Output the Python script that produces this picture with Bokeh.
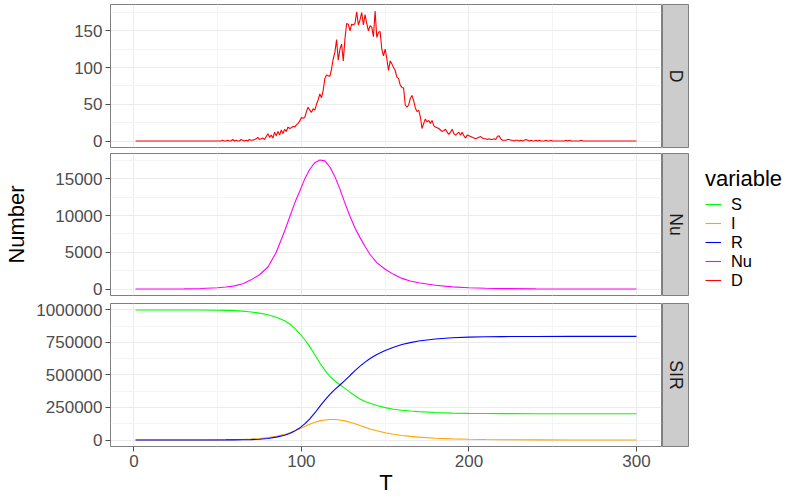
import math
from bokeh.plotting import figure
from bokeh.layouts import row, column
from bokeh.models import (Range1d, FixedTicker, BasicTickFormatter, Legend,
                          LegendItem, LinearAxis, Grid)
from bokeh.core.properties import value
from bokeh.embed import file_html
from bokeh.resources import INLINE

FONT = "Liberation Sans"

# ---------------- data ----------------
variables = ["S", "I", "R", "Nu", "D"]
colors = ["#00FF00", "#FFA500", "#0000FF", "#FF00FF", "#FF0000"]
panel_names = ["D", "Nu", "SIR"]

T_daily = list(range(1, 301))
D = ([0] * 50
     + [0, 0, 1, 0, 0, 1, 0, 0, 2, 0]
     + [1, 0, 0, 2, 1, 0, 1, 0, 2, 1]
     + [1, 2, 3, 5, 2, 3, 4, 2, 6, 10]
     + [5, 8, 4, 12, 7, 13, 8, 15, 10, 16]
     + [13, 19, 17, 18, 20, 19, 22, 24, 27, 32]
     + [31, 32, 40, 46, 42, 39, 44, 42, 50, 56]
     + [64, 59, 69, 85, 90, 89, 88, 98, 112, 121]
     + [138, 110, 125, 132, 109, 139, 160, 159, 150, 159]
     + [158, 160, 176, 158, 165, 175, 158, 172, 160, 150]
     + [157, 155, 142, 177, 141, 148, 149, 125, 116, 125]
     + [112, 96, 109, 105, 100, 96, 87, 85, 76, 73]
     + [72, 49, 46, 49, 58, 62, 55, 45, 40, 42]
     + [33, 17, 24, 30, 26, 28, 24, 28, 21, 19]
     + [18, 17, 15, 13, 14, 16, 12, 9, 12, 16]
     + [10, 8, 10, 12, 8, 12, 7, 4, 8, 7]
     + [6, 5, 4, 3, 4, 5, 6, 4, 3, 3]
     + [2, 3, 2, 2, 3, 2, 6, 7, 3, 1]
     + [1, 1, 2, 2, 1, 1, 0, 1, 1, 0]
     + [1, 0, 1, 2, 1, 0, 1, 0, 0, 1]
     + [0, 1, 0, 0, 0, 1, 0, 0, 1, 0]
     + [0, 0, 0, 0, 0, 0, 0, 1, 0, 1]
     + [0, 0, 0, 0, 0, 0, 1, 0, 0, 0]
     + [0] * 30)

T_smooth = [1, 10, 20, 30, 40, 50, 55, 60, 65, 70,
            75, 80, 85, 90, 93, 96, 99, 102, 105, 108,
            111, 114, 117, 120, 123, 126, 129, 132, 135, 138,
            141, 145, 150, 155, 160, 165, 170, 180, 190, 200,
            210, 220, 240, 260, 280, 300]

Nu = [1, 4, 10, 25, 65, 170, 270, 430, 720, 1250,
      1950, 3000, 5000, 7900, 9800, 11700, 13300, 15000, 16300, 17200,
      17570, 17450, 16600, 15300, 13600, 11700, 9900, 8300, 7000, 5800,
      4700, 3600, 2700, 2000, 1450, 1100, 850, 520, 300, 170,
      100, 60, 22, 8, 3, 1]

S = [999990, 999970, 999900, 999780, 999500, 998500, 997300, 995000, 991000, 985000,
     976000, 964000, 944000, 917000, 892000, 859000, 819000, 771000, 718000, 656000,
     592000, 537000, 490000, 454000, 425000, 397000, 368000, 340000, 316000, 297000,
     282000, 265000, 249000, 237000, 229000, 222500, 218000, 211000, 207000, 205000,
     203800, 203000, 202300, 202000, 201900, 201800]

I = [10, 25, 70, 180, 450, 1100, 1700, 2700, 4300, 7000,
     11500, 19000, 29000, 43000, 55000, 70000, 87000, 104000, 121000, 136000,
     147000, 154000, 158000, 158000, 154000, 147000, 137000, 125000, 112000, 98000,
     85000, 71000, 56000, 44000, 35000, 28000, 22000, 14000, 9000, 5500,
     3400, 2100, 750, 270, 100, 35]

R = [0, 2, 10, 40, 120, 350, 600, 1000, 1800, 3200,
     6000, 11000, 22000, 36000, 50000, 70000, 93000, 124000, 162000, 208000,
     259000, 307000, 351000, 389000, 423000, 458000, 496000, 533000, 568000, 599000,
     627000, 657000, 689000, 714000, 734000, 749000, 761000, 777000, 786000, 791000,
     794000, 795500, 796500, 797000, 797200, 797300]

x_ticks = [0, 100, 200, 300]
x_minor = [50, 150, 250]
y_ticks = {"D": [0, 50, 100, 150],
           "Nu": [0, 5000, 10000, 15000],
           "SIR": [0, 250000, 500000, 750000, 1000000]}
y_minor = {"D": [25, 75, 125, 175],
           "Nu": [2500, 7500, 12500, 17500],
           "SIR": [125000, 375000, 625000, 875000]}

series = {"S": (T_smooth, S), "I": (T_smooth, I), "R": (T_smooth, R),
          "Nu": (T_smooth, Nu), "D": (T_daily, D)}
panel_vars = {"D": ["D"], "Nu": ["Nu"], "SIR": ["S", "I", "R"]}
color_of = dict(zip(variables, colors))

# ---------------- layout sizes ----------------
LEFT = 110
PANEL_W = 662
STRIP_W = 27
LEG_W = 111
heights = {"D": 152, "Nu": 147, "SIR": 200}
tops = {"D": 4, "Nu": 1, "SIR": 4}
bottoms = {"D": 5, "Nu": 4, "SIR": 53}
TICK_FS = "17px"

TICK_COLOR = "#4D4D4D"
GRID_MAJOR = "#EBEBEB"
GRID_MINOR = "#F4F4F4"
BORDER = "#7F7F7F"

tmin, tmax = min(T_daily), max(T_daily)
xpad = 0.05 * (tmax - tmin)


def style_ticks(ax):
    ax.axis_line_color = None
    ax.major_tick_line_color = TICK_COLOR
    ax.major_tick_in = 0
    ax.major_tick_out = 5
    ax.minor_tick_line_color = None
    ax.major_label_standoff = 3
    ax.major_label_text_font = FONT
    ax.major_label_text_font_size = TICK_FS
    ax.major_label_text_color = TICK_COLOR
    ax.axis_label_text_font = FONT
    ax.axis_label_text_font_size = "22px"
    ax.axis_label_text_font_style = "normal"
    ax.axis_label_text_color = "black"


def make_panel(name):
    vals = []
    for v in panel_vars[name]:
        vals += list(series[v][1])
    ymax, ymin = max(vals), min(vals)
    ypad = 0.05 * (ymax - ymin)
    p = figure(width=PANEL_W, height=heights[name],
               x_range=Range1d(tmin - xpad, tmax + xpad),
               y_range=Range1d(ymin - ypad, ymax + ypad),
               x_axis_location=None, y_axis_location="left",
               output_backend="svg", toolbar_location=None,
               min_border_left=LEFT, min_border_right=1,
               min_border_top=tops[name], min_border_bottom=bottoms[name],
               background_fill_color="white", border_fill_color="white",
               outline_line_color=BORDER, outline_line_width=1)
    yt = FixedTicker(ticks=y_ticks[name], minor_ticks=y_minor[name])
    xt = FixedTicker(ticks=x_ticks, minor_ticks=x_minor)
    ax = p.yaxis[0]
    ax.ticker = yt
    ax.formatter = BasicTickFormatter(use_scientific=False)
    style_ticks(ax)
    if name == "Nu":
        ax.axis_label = "Number"
        ax.axis_label_standoff = 23
    for g in list(p.grid):
        if g in p.center:
            p.center.remove(g)
    gx = Grid(dimension=0, ticker=xt, grid_line_color=GRID_MAJOR, grid_line_width=1,
              minor_grid_line_color=GRID_MINOR, minor_grid_line_width=1, level="underlay")
    gy = Grid(dimension=1, ticker=yt, grid_line_color=GRID_MAJOR, grid_line_width=1,
              minor_grid_line_color=GRID_MINOR, minor_grid_line_width=1, level="underlay")
    p.add_layout(gx, "center")
    p.add_layout(gy, "center")
    if name == "SIR":
        xa = LinearAxis(ticker=xt, axis_label="T")
        style_ticks(xa)
        xa.axis_label_standoff = 0
        p.add_layout(xa, "below")
    for v in panel_vars[name]:
        xs, ys = series[v]
        p.line(xs, ys, line_color=color_of[v], line_width=1.1)
    return p


def make_strip(name):
    s = figure(width=STRIP_W, height=heights[name],
               x_range=Range1d(0, 1), y_range=Range1d(0, 1),
               x_axis_location=None, y_axis_location=None,
               output_backend="svg", toolbar_location=None,
               min_border_left=0, min_border_right=1,
               min_border_top=tops[name], min_border_bottom=bottoms[name],
               background_fill_color="#CCCCCC", border_fill_color="white",
               outline_line_color=BORDER, outline_line_width=1)
    for g in list(s.grid):
        g.visible = False
    s.text(x=[0.5], y=[0.5], text=[name], angle=-math.pi / 2,
           text_align="center", text_baseline="middle",
           text_font=value(FONT), text_font_size="17.6px", text_color="#1A1A1A")
    return s


rows = []
for name in panel_names:
    rows.append(row(make_panel(name), make_strip(name)))
panels_col = column(*rows)

total_h = sum(heights.values())
# legend panel: the series are drawn here outside the visible range, only to feed the legend keys
lg = figure(width=LEG_W, height=total_h, x_range=Range1d(-30, -20), y_range=Range1d(0, 1),
            x_axis_location=None, y_axis_location=None,
            output_backend="svg", toolbar_location=None,
            min_border_left=0, min_border_right=0, min_border_top=0, min_border_bottom=0,
            outline_line_color=None, border_fill_color="white", background_fill_color="white")
for g in list(lg.grid):
    g.visible = False

LEG_X = 16
LEG_BOTTOM = 209.2   # bottom of the last legend entry, px above the panel bottom
LEG_STEP = 19        # vertical distance between legend entries, px
n = len(variables)
for i, v in enumerate(variables):
    xs, ys = series[v]
    r = lg.line(xs, ys, line_color=color_of[v], line_width=1.1)
    kw = {}
    if i == 0:
        kw = dict(title="variable", title_text_font=FONT, title_text_font_size="22px",
                  title_text_font_style="normal", title_text_color="black",
                  title_standoff=3)
    lgd = Legend(items=[LegendItem(label=v, renderers=[r])],
                 location=(LEG_X, LEG_BOTTOM + (n - 1 - i) * LEG_STEP),
                 label_text_font=FONT, label_text_font_size="16.4px",
                 label_text_color="black", label_standoff=10,
                 glyph_width=16, glyph_height=18, label_height=18,
                 spacing=0, padding=0, margin=0,
                 border_line_color=None, background_fill_alpha=0, **kw)
    lg.add_layout(lgd)

layout = row(panels_col, lg)

open("out.html", "w").write(file_html(layout, INLINE))
